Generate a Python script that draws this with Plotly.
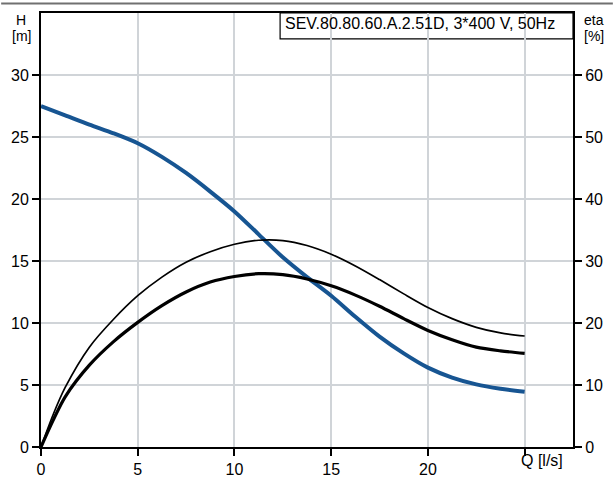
import plotly.graph_objects as go

# Data (Q in l/s)
q_head = [0, 1.25, 2.5, 3.75, 5, 6.25, 7.5, 8.75, 10, 11.25, 12.5, 13.75, 15,
          16.25, 17.5, 18.75, 20, 21.25, 22.5, 23.75, 25]
head = [27.5, 26.75, 26.0, 25.3, 24.5, 23.4, 22.1, 20.6, 19.0, 17.15, 15.3, 13.7, 12.2,
        10.5, 8.9, 7.55, 6.4, 5.6, 5.05, 4.7, 4.45]

q_eta1 = [0, 0.625, 1.25, 2.5, 3.75, 5, 6.25, 7.5, 8.75, 10, 11.25, 12.5, 13.75, 15,
          16.25, 17.5, 18.75, 20, 21.25, 22.5, 23.75, 25]
eta1 = [0, 5.2, 9.6, 16.1, 20.6, 24.4, 27.4, 29.8, 31.5, 32.7, 33.35, 33.3, 32.5, 31.1,
        29.2, 27.0, 24.7, 22.5, 20.7, 19.3, 18.4, 17.9]

q_eta2 = [0, 0.625, 1.25, 2.5, 3.75, 5, 6.25, 7.5, 8.75, 10, 11.25, 12.5, 13.75, 15,
          16.25, 17.5, 18.75, 20, 21.25, 22.5, 23.75, 25]
eta2 = [0, 4.3, 8.1, 13.2, 17.0, 20.1, 22.8, 25.0, 26.6, 27.5, 27.95, 27.8, 27.1, 26.0,
        24.5, 22.7, 20.7, 18.8, 17.3, 16.1, 15.5, 15.1]

x_ticks = [0, 5, 10, 15, 20, 25]
x_ticktext = ["0", "5", "10", "15", "20", ""]
h_ticks = [0, 5, 10, 15, 20, 25, 30]
eta_ticks = [0, 10, 20, 30, 40, 50, 60]
title_text = "SEV.80.80.60.A.2.51D, 3*400 V, 50Hz"

W, H = 614, 489
ML, MR, MT, MB = 40, 40, 11, 24
PW, PH = W - ML - MR, H - MT - MB

def px(x):
    return (x - ML) / PW

def py(y):
    return (H - MB - y) / PH

FONT = "Liberation Sans, Arial, sans-serif"
GRID = "#d0d4d8"

fig = go.Figure()
fig.add_trace(go.Scatter(x=q_eta1, y=eta1, yaxis="y2", mode="lines",
                         line=dict(color="black", width=1.7, shape="spline", smoothing=0.8),
                         showlegend=False, hoverinfo="skip"))
fig.add_trace(go.Scatter(x=q_eta2, y=eta2, yaxis="y2", mode="lines",
                         line=dict(color="black", width=3.2, shape="spline", smoothing=0.8),
                         showlegend=False, hoverinfo="skip"))
fig.add_trace(go.Scatter(x=q_head, y=head, mode="lines",
                         line=dict(color="#175592", width=4, shape="spline", smoothing=0.8),
                         showlegend=False, hoverinfo="skip"))

axis_common = dict(showline=True, linecolor="black", linewidth=2,
                   ticks="outside", ticklen=7, tickwidth=2, tickcolor="black",
                   tickfont=dict(family=FONT, size=16, color="black"),
                   zeroline=False)

fig.update_layout(
    width=W, height=H,
    margin=dict(l=ML, r=MR, t=MT, b=MB, pad=0),
    paper_bgcolor="white", plot_bgcolor="white",
    xaxis=dict(range=[0, 27.5], tickvals=x_ticks, ticktext=x_ticktext,
               showgrid=True, gridcolor=GRID, gridwidth=1.5, mirror=True,
               **axis_common),
    yaxis=dict(range=[0, 35], tickvals=h_ticks,
               showgrid=True, gridcolor=GRID, gridwidth=1.5, mirror=True,
               **axis_common),
    yaxis2=dict(range=[0, 70], tickvals=eta_ticks, overlaying="y", side="right",
                showgrid=False, **axis_common),
    shapes=[
        dict(type="rect", xref="paper", yref="paper", x0=px(280), x1=1,
             y0=py(38), y1=1, line=dict(color="black", width=1.2),
             fillcolor="white", layer="below"),
        dict(type="line", xref="paper", yref="paper", x0=px(0), x1=px(614),
             y0=py(1), y1=py(1), line=dict(color="#707070", width=2)),
    ],
    annotations=[
        dict(text=title_text, xref="paper", yref="paper", x=px(283), y=py(22),
             xanchor="left", yanchor="middle", showarrow=False,
             font=dict(family=FONT, size=16, color="black")),
        dict(text="H", xref="paper", yref="paper", x=px(20), y=py(18),
             xanchor="center", yanchor="middle", showarrow=False,
             font=dict(family=FONT, size=14, color="black")),
        dict(text="[m]", xref="paper", yref="paper", x=px(20), y=py(35),
             xanchor="center", yanchor="middle", showarrow=False,
             font=dict(family=FONT, size=14, color="black")),
        dict(text="eta", xref="paper", yref="paper", x=px(583), y=py(18),
             xanchor="left", yanchor="middle", showarrow=False,
             font=dict(family=FONT, size=14, color="black")),
        dict(text="[%]", xref="paper", yref="paper", x=px(583), y=py(35),
             xanchor="left", yanchor="middle", showarrow=False,
             font=dict(family=FONT, size=14, color="black")),
        dict(text="Q [l/s]", xref="x", yref="paper", x=25, y=py(479),
             xanchor="left", yanchor="middle", xshift=-6, showarrow=False,
             font=dict(family=FONT, size=16, color="black")),
    ],
)

fig.write_html("out.html", config={"displayModeBar": False},
               post_script="document.body.style.margin='0';document.body.style.overflow='hidden';")
